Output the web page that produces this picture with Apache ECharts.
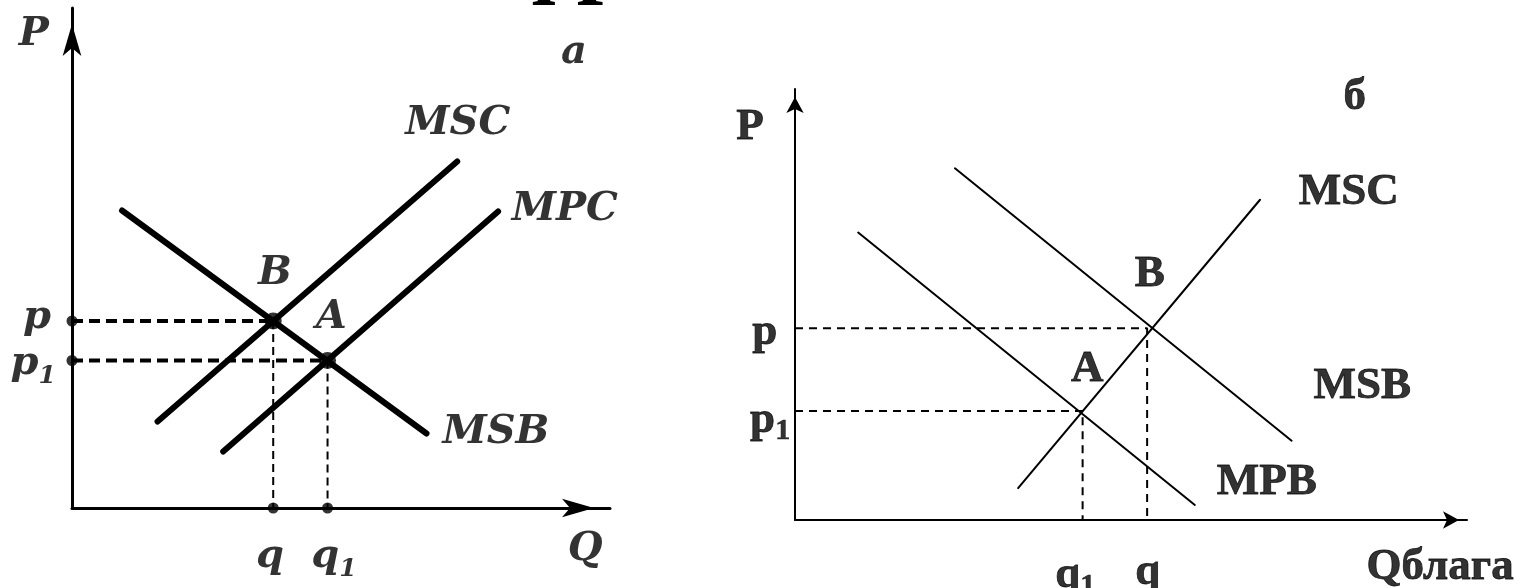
<!DOCTYPE html>
<html>
<head>
<meta charset="utf-8">
<script src="https://cdn.jsdelivr.net/npm/echarts@6/dist/echarts.min.js"></script>
<style>
  html, body { margin: 0; padding: 0; background: #fff; }
  #chart { width: 1518px; height: 588px; }
</style>
</head>
<body>
<div id="chart"></div>
<script>
// panel "a" (left) - curve end points, value units 0..100
var msbA = [[9.3, 59.5], [65.9, 14.9]];
var mscA = [[15.9, 17.3], [71.6, 69.3]];
var mpcA = [[28.1, 11.3], [79.2, 59.3]];
var pointB_A = [37.4, 37.4];
var pointA_A = [47.5, 29.5];

// panel "б" (right)
var mscB = [[33.2, 7.4], [69.2, 74.3]];
var msbB = [[23.8, 81.6], [73.9, 18.4]];
var mpbB = [[9.4, 66.7], [59.5, 3.5]];
var cornerB_B = [52.4, 44.5];
var cornerA_B = [42.8, 25.3];

// labels: [x, y, text]
var labelsA = [
  [-7.1, 94.6, 'P'], [93.3, 91, 'a'], [71.7, 76.8, 'MSC'], [91.6, 59.6, 'MPC'],
  [37.7, 46.8, 'B'], [48.2, 38, 'A'], [78.8, 15, 'MSB'],
  [-6.5, 38, 'p'], [-7.2, 28.8, 'p1'], [36.8, -9.8, 'q'], [48.7, -9.8, 'q1'], [95.4, -8.4, 'Q']
];
var labelsB = [
  [-6.7, 91, 'P'], [83.3, 98.1, 'б'], [82.4, 75.9, 'MSC'], [52.8, 57.1, 'B'],
  [43.5, 35.0, 'A'], [84.4, 30.9, 'MSB'], [70.2, 8.8, 'MPB'],
  [-4.5, 43.6, 'p'], [-3.7, 23.2, 'p1'], [41.7, -12.8, 'q1'], [52.5, -12.1, 'q'], [96, -11.1, 'Qблага']
];

function sub(t) {
  // 'p1' -> p with subscript 1
  if (t.length === 2 && t[1] === '1') return '{i|' + t[0] + '}{s|1}';
  return '{i|' + t + '}';
}

function axisPair(idx, lw, arrow) {
  var line = {
    show: true, onZero: false,
    symbol: ['none', 'arrow'], symbolSize: arrow, symbolOffset: [0, -arrow[1] / 2],
    lineStyle: { color: '#000', width: lw }
  };
  var base = {
    gridIndex: idx, type: 'value', min: 0, max: 100,
    axisLine: line, axisTick: { show: false }, axisLabel: { show: false }, splitLine: { show: false }
  };
  return [base, Object.assign({}, base)];
}

var axA = axisPair(0, 3, [14, 32]);
var axB = axisPair(1, 2, [13, 16]);

function curve(idx, pts, w) {
  return {
    type: 'line', xAxisIndex: idx, yAxisIndex: idx, data: pts,
    showSymbol: false, silent: true, clip: false,
    lineStyle: { color: '#000', width: w, cap: 'round' }
  };
}
function dashed(idx, pts, w, dash) {
  return {
    type: 'line', xAxisIndex: idx, yAxisIndex: idx, data: pts,
    showSymbol: false, silent: true,
    lineStyle: { color: '#000', width: w, type: dash }
  };
}
function textLayer(idx, list, rich) {
  return {
    type: 'scatter', xAxisIndex: idx, yAxisIndex: idx, clip: false, silent: true,
    symbolSize: 0, data: list, itemStyle: { color: '#000' },
    label: {
      show: true, position: [0, 0], align: 'center', verticalAlign: 'middle',
      color: '#000',
      formatter: function (d) { return sub(d.data[2]); },
      rich: rich
    }
  };
}

var richA = {
  i: { fontFamily: 'DejaVu Serif', fontStyle: 'italic', fontWeight: 'bold', fontSize: 40, color: '#000', lineHeight: 50 },
  s: { fontFamily: 'DejaVu Serif', fontStyle: 'italic', fontWeight: 'bold', fontSize: 25, color: '#000', verticalAlign: 'bottom' }
};
var richB = {
  i: { fontFamily: 'Liberation Serif', fontWeight: 'bold', fontSize: 45, color: '#000', lineHeight: 52,
    textBorderColor: '#000', textBorderWidth: 0.8 },
  s: { fontFamily: 'Liberation Serif', fontWeight: 'bold', fontSize: 30, color: '#000', verticalAlign: 'bottom',
    textBorderColor: '#000', textBorderWidth: 0.6 }
};

var chart = echarts.init(document.getElementById('chart'), null, { renderer: 'canvas' });
chart.setOption({
  backgroundColor: '#fff',
  animation: false,
  grid: [
    { left: 72, top: 8, width: 538, height: 500 },
    { left: 795, top: 89, width: 672, height: 431 }
  ],
  xAxis: [axA[0], axB[0]],
  yAxis: [axA[1], axB[1]],
  graphic: [{
    // tail of a cut-off heading at the top edge
    type: 'text', silent: true, x: 511, y: 8,
    style: { text: 'фр', align: 'left', verticalAlign: 'bottom', fill: '#000',
      font: 'bold 95px "Liberation Serif"' }
  }],
  series: [
    // panel a
    dashed(0, [[0, pointB_A[1]], pointB_A], 4, [11, 6]),
    dashed(0, [[0, pointA_A[1]], pointA_A], 4, [11, 6]),
    dashed(0, [pointB_A, [pointB_A[0], 0]], 2, [8, 5]),
    dashed(0, [pointA_A, [pointA_A[0], 0]], 2, [8, 5]),
    curve(0, msbA, 6),
    curve(0, mscA, 6),
    curve(0, mpcA, 6),
    {
      type: 'scatter', xAxisIndex: 0, yAxisIndex: 0, silent: true, clip: false,
      symbolSize: 17, itemStyle: { color: '#000' },
      data: [pointB_A, pointA_A]
    },
    {
      type: 'scatter', xAxisIndex: 0, yAxisIndex: 0, silent: true, clip: false,
      symbolSize: 11, itemStyle: { color: '#000' },
      data: [[0, pointB_A[1]], [0, pointA_A[1]], [pointB_A[0], 0], [pointA_A[0], 0]]
    },
    textLayer(0, labelsA, richA),
    // panel б
    dashed(1, [[0, cornerB_B[1]], cornerB_B, [cornerB_B[0], 0]], 2, [8, 6]),
    dashed(1, [[0, cornerA_B[1]], cornerA_B, [cornerA_B[0], 0]], 2, [8, 6]),
    curve(1, mscB, 2),
    curve(1, msbB, 2),
    curve(1, mpbB, 2),
    textLayer(1, labelsB, richB)
  ]
});
</script>
</body>
</html>
